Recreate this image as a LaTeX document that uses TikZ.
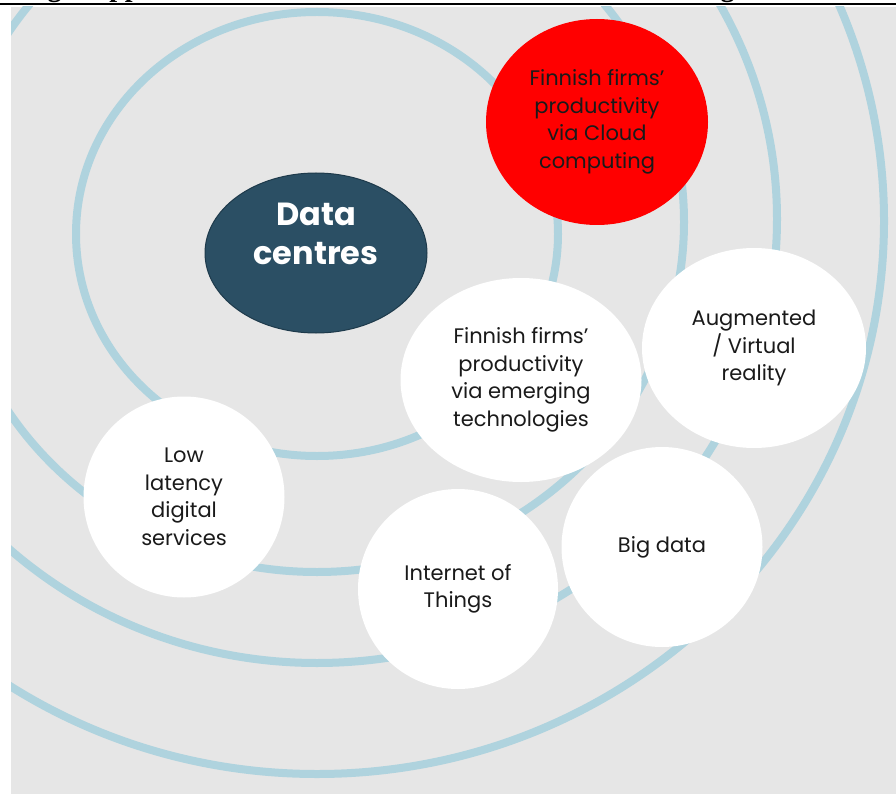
\documentclass[tikz,border=0pt]{standalone}
\usepackage{fontspec}
\setmainfont{Poppins}
\newfontfamily\hdrfont{Liberation Serif}
\usetikzlibrary{shapes.geometric}
\definecolor{bggray}{HTML}{E6E6E6}
\definecolor{ringblue}{HTML}{AFD3DE}
\definecolor{dcblue}{HTML}{2B4F64}
\definecolor{dcedge}{HTML}{1E3A4B}
\definecolor{txtdark}{HTML}{1A1A1A}
\tikzset{
  ring/.style={draw=ringblue, line width=8pt},
  bubble/.style={ellipse, inner sep=0pt, align=center, text=txtdark,
    font={\fontsize{21}{27.5}\selectfont}},
  whitebubble/.style={bubble, fill=white},
  dctext/.style={align=center, text=white, inner sep=0pt,
    font={\fontsize{32}{39}\selectfont\bfseries}},
  hdr/.style={anchor=base, inner sep=0pt, font={\hdrfont\bfseries\fontsize{28}{30}\selectfont}}
}
\begin{document}
\begin{tikzpicture}[x=1pt,y=-1pt]
\useasboundingbox (0,0) rectangle (896,794);
\fill[white] (0,0) rectangle (896,794);
\fill[bggray] (11,7) rectangle (896,794);
\begin{scope}
  \clip (11,7) rectangle (896,794);
  \draw[ring] (317,234) ellipse [x radius=241, y radius=222];
  \draw[ring] (317,222) ellipse [x radius=367, y radius=350];
  \draw[ring] (317,219) ellipse [x radius=460, y radius=444];
  \draw[ring] (317,221) ellipse [x radius=567, y radius=553];
\end{scope}
% header fragments
\draw[line width=2pt] (0,4.5) -- (896,4.5);
\begin{scope}
  \clip (0,0) rectangle (896,3.4);
  \node[hdr] (h1) at (54.5,-3.2) {g};
  \node[hdr] (h2) at (125,-3.2) {pp};
  \node[hdr] (h3) at (727.5,-3.2) {g};
\end{scope}
% circles
\node[ellipse, fill=dcblue, draw=dcedge, line width=1pt, inner sep=0pt,
  minimum width=222pt, minimum height=160pt] (dc) at (316,253) {};
\node[dctext] (dct) at ([yshift=19pt]dc.center) {Data\\centres};
\node[bubble, fill=red, minimum width=222pt, minimum height=206pt] (cloud) at (597,122)
  {Finnish firms’\\productivity\\via Cloud\\computing};
\node[whitebubble, minimum width=241pt, minimum height=204pt] (emerg) at (521,380)
  {Finnish firms’\\productivity\\via emerging\\technologies};
\node[whitebubble, minimum width=224pt, minimum height=200pt] (arvr) at (754,348)
  {Augmented\\/ Virtual\\reality};
\node[whitebubble, minimum width=201pt, minimum height=201pt] (lowlat) at (184,497)
  {Low\\latency\\digital\\services};
\node[whitebubble, minimum width=200pt, minimum height=200pt] (iot) at (458,589)
  {Internet of\\Things};
\node[whitebubble, minimum width=201pt, minimum height=200pt] (big) at (662,547)
  {Big data};
\end{tikzpicture}
\end{document}
